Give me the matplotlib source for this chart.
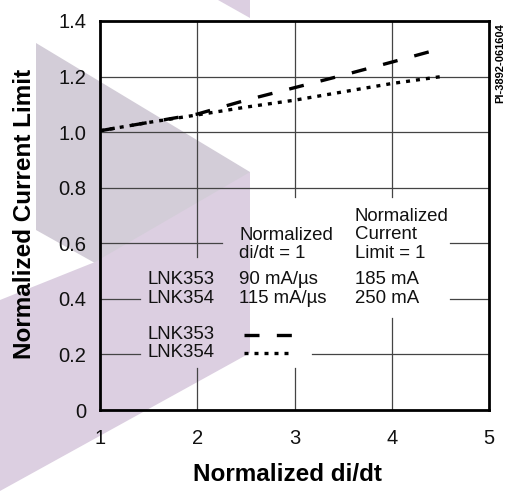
import matplotlib
matplotlib.use("Agg")
import matplotlib.pyplot as plt
from matplotlib.patches import Polygon
import numpy as np

plt.rcParams['font.family'] = ['Liberation Sans', 'DejaVu Sans']

# data
didt = [1.0, 1.5, 2.0, 2.5, 3.0, 3.5, 4.0, 4.55]
lnk353 = [1.005, 1.035, 1.065, 1.115, 1.16, 1.205, 1.252, 1.305]
lnk354 = [1.005, 1.035, 1.062, 1.09, 1.115, 1.145, 1.175, 1.202]

xTicks = [1, 2, 3, 4, 5]
yTicks = [0, 0.2, 0.4, 0.6, 0.8, 1.0, 1.2, 1.4]
yTickLabels = ['0', '0.2', '0.4', '0.6', '0.8', '1.0', '1.2', '1.4']

parts = ['LNK353', 'LNK354']
normDidt = ['90 mA/\u00b5s', '115 mA/\u00b5s']
normLimit = ['185 mA', '250 mA']

W, H = 513, 491
fig = plt.figure(figsize=(W / 100, H / 100), dpi=100)

################################################################################
# background watermark (figure pixel coords)

def px(pts):
   return [(x / W, 1 - y / H) for x, y in pts]

lavender = '#dccfe1'
greyish = '#d3cdd8'
fig.patches.append(Polygon(px([(36, 43), (250, 172), (250, 350), (36, 230)]),
                           closed=True, transform=fig.transFigure,
                           facecolor=greyish, edgecolor='none', zorder=-10))
fig.patches.append(Polygon(px([(0, 300), (95, 262), (250, 172), (250, 353), (0, 491)]),
                           closed=True, transform=fig.transFigure,
                           facecolor=lavender, edgecolor='none', zorder=-9))
fig.patches.append(Polygon(px([(218, 0), (250, 0), (250, 18)]),
                           closed=True, transform=fig.transFigure,
                           facecolor=lavender, edgecolor='none', zorder=-9))

################################################################################

ax = fig.add_axes([100 / W, 1 - 410 / H, 389 / W, 389 / H])
ax.set_zorder(5)
ax.patch.set_alpha(0)
ax.set_xlim(1, 5)
ax.set_ylim(0, 1.4)

# grid with gaps where the text sits
gridCol = '#444444'
gridLw = 0.9
hSegs = {0.2: [(1, 1.41), (3.18, 5)],
         0.4: [(1, 1.41), (4.60, 5)],
         0.6: [(1, 2.25), (4.60, 5)],
         0.8: [(1, 5)], 1.0: [(1, 5)], 1.2: [(1, 5)]}
for yv, segs in hSegs.items():
   for a, b in segs:
      ax.plot([a, b], [yv, yv], color=gridCol, lw=gridLw, zorder=1)
vSegs = {2: [(0, 0.151), (0.55, 1.4)],
         3: [(0, 0.151), (0.766, 1.4)],
         4: [(0, 0.331), (0.766, 1.4)]}
for xv, segs in vSegs.items():
   for a, b in segs:
      ax.plot([xv, xv], [a, b], color=gridCol, lw=gridLw, zorder=1)

dashStyle = (0, (4.5, 5.2))
dotStyle = (0, (1.2, 1.8))
ax.plot(didt, lnk353, color='black', lw=2.4, linestyle=dashStyle, zorder=3)
ax.plot(didt, lnk354, color='black', lw=2.4, linestyle=dotStyle, zorder=3)

# legend samples
ax.plot([2.48, 2.97], [0.27, 0.27], color='black', lw=2.4, linestyle=dashStyle)
ax.plot([2.48, 2.97], [0.205, 0.205], color='black', lw=2.4, linestyle=dotStyle)

txtKw = dict(fontsize=13.4, color='#111111', linespacing=1.1, va='center', ha='left')
ax.text(2.43, 0.595, 'Normalized\ndi/dt = 1', **txtKw)
ax.text(3.62, 0.63, 'Normalized\nCurrent\nLimit = 1', **txtKw)
ax.text(1.49, 0.435, '\n'.join(parts), **txtKw)
ax.text(2.43, 0.435, '\n'.join(normDidt), **txtKw)
ax.text(3.62, 0.435, '\n'.join(normLimit), **txtKw)
ax.text(1.49, 0.24, '\n'.join(parts), **txtKw)

for s in ax.spines.values():
   s.set_linewidth(2.0)
   s.set_color('black')

ax.set_xticks(xTicks)
ax.set_yticks(yTicks)
ax.set_yticklabels(yTickLabels)
ax.tick_params(length=0, labelsize=14.5, colors='#111111')
ax.tick_params(axis='y', pad=10)
ax.tick_params(axis='x', pad=14)

ax.set_xlabel('Normalized di/dt', fontsize=17.5, fontweight='bold', va='center')
ax.xaxis.set_label_coords(0.483, -0.167)
ax.set_ylabel('Normalized Current Limit', fontsize=17.5, fontweight='bold', va='center')
ax.yaxis.set_label_coords(-0.195, 0.505)

fig.text(500 / W, 1 - 63 / H, 'PI-3892-061604', rotation=90, fontsize=8,
         fontweight='bold', ha='center', va='center')

fig.savefig('out.png', dpi=100)
